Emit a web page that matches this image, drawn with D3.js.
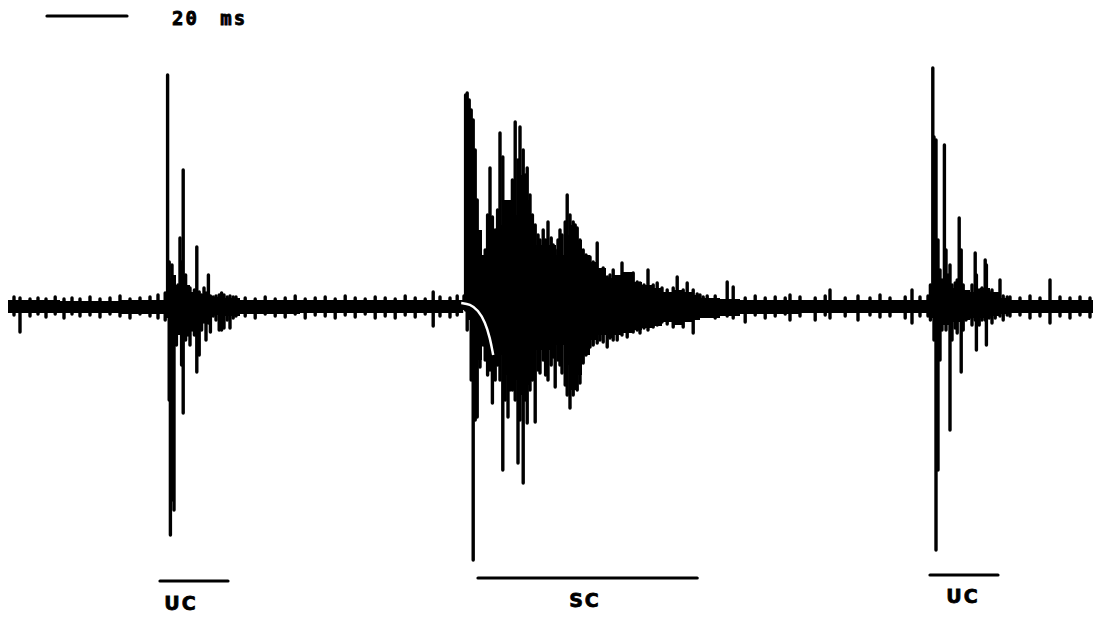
<!DOCTYPE html>
<html><head><meta charset="utf-8">
<script src="https://cdn.jsdelivr.net/npm/d3@7"></script>
<style>html,body{margin:0;padding:0;background:#fff;}svg{display:block;}</style>
</head><body>
<svg id="chart" width="1100" height="617"></svg>
<script>
// ---- data: time in ms, deflection in arbitrary amplitude units (+ up, - down) ----
const envT  = [0,13,28,38,39,40,41,42,43,44,45.5,47,48.5,50.5,53,58,73,93,113,113.8,114.5,117,118.5,120.5,122,124,126,127.5,129,130.5,132,133.5,135,137,139,140.5,142,143.5,145.5,147.5,149.5,151.5,153.5,156,158.5,161,163.5,166,168.5,171,173,178,183,198,223,229.3,230.5,233,235.5,238,240.5,243,245.5,248,250.5,271.25];
const envHi = [6,5,6,6,10,26,31,21,23,21,14,12,10,9,8,6,6,6,6,11,106,76,51,66,81,106,91,131,106,76,61,56,61,51,71,81,66,51,44,38,28,31,34,24,21,18,14,16,14,11,8,7,6,6,6,6,14,21,18,16,14,18,14,8,6,6];
const envLo = [-7,-7,-8,-8,-12,-24,-29,-29,-24,-26,-14,-12,-10,-9,-10,-8,-7,-7,-7,-4,-14,-54,-39,-54,-49,-69,-74,-89,-79,-64,-44,-44,-44,-39,-59,-84,-69,-49,-34,-29,-32,-29,-27,-24,-22,-20,-16,-19,-16,-14,-12,-10,-8,-7,-7,-7,-12,-19,-16,-14,-12,-12,-10,-8,-7,-7];

// baseline noise deflections
const noiseT  = [1.5,3,5.5,7.5,9.5,11.8,14,16,18,20.5,23,25.5,28,30.5,33,35.5,37.5,59.3,61.8,64.3,66.8,69.3,71.8,74.3,76.8,79.3,81.8,84.3,86.8,89.3,91.8,94.3,96.8,99.3,101.8,104.3,106.3,108,110.5,112.3,176.8,184.3,186.8,189.3,191.8,194.3,195.5,198,201.8,204.3,205.5,209.3,212.5,215.5,218,220.5,224.3,226,228,250.5,253,255.5,258,260.5,263,265.5,268,270.5];
const noiseHi = [9,8,7,8,7,9,7,8,7,9,7,8,10,7,8,9,11,8,7,9,7,8,10,7,8,9,7,10,8,7,9,8,7,10,8,7,14,9,8,10,10,8,10,8,9,8,11,9,8,10,16,8,10,8,11,8,9,16,9,9,8,10,8,26,9,8,9,8];
const noiseLo = [-9,-26,-10,-8,-11,-8,-12,-8,-10,-9,-11,-8,-10,-12,-8,-10,-12,-10,-12,-8,-10,-11,-8,-12,-9,-10,-12,-9,-11,-8,-12,-10,-12,-9,-11,-8,-20,-10,-11,-9,-12,-16,-9,-12,-10,-8,-14,-10,-14,-9,-12,-10,-14,-9,-11,-10,-12,-17,-10,-10,-9,-12,-10,-17,-10,-12,-9,-11];

// first burst (UC)
const uc1T  = [39.3,39.9,40.3,40.6,41,41.5,42.1,42.5,43,43.4,43.8,44.4,45,45.5,46,46.6,47.2,47.8,48.4,49,49.5,50.1,50.6,51.3,52,52.8,53.4,54,54.8,55.5,56.3,57];
const uc1Hi = [13,231,44,26,41,21,16,21,68,44,136,31,16,18,11,16,59,14,11,18,13,31,10,9,10,11,13,11,9,10,9,9];
const uc1Lo = [-14,-4,-94,-229,-194,-204,-39,-24,-14,-59,-107,-34,-29,-39,-24,-29,-66,-49,-24,-16,-34,-17,-26,-10,-14,-24,-24,-22,-14,-22,-12,-10];

// second burst (SC)
const scT  = [114,114.4,114.8,115.3,115.8,116.3,116.8,117.3,118,118.8,119.3,119.9,120.5,121.1,121.8,122.4,123,123.7,124.3,125,125.5,126.1,126.8,127.5,128,128.8,129.3,129.8,130.5,131.1,131.8,132.5,133,133.8,134.4,135,135.8,136.3,136.8,137.5,138,138.5,139.3,139.8,140.5,141.3,141.8,142.3,143,143.8,144.5,145.5,146.3,147.3,148,148.8,149.8,150.5,151.3,152.3,153.5,154.8,156.3,157.3,158,159,160,161.3,162.3,163.5,164.8,166.3,167.3,168.8,169.8,171.3,172.3,173,173.8,174.8,179.8,181.3];
const scHi = [10,211,213,206,196,186,156,106,66,33,56,91,138,89,76,96,173,149,101,96,89,126,184,146,179,156,131,138,111,91,81,71,66,76,66,84,68,61,56,66,76,71,84,111,91,84,81,78,66,56,51,49,44,63,33,38,29,31,36,28,43,26,33,24,23,21,36,21,23,18,16,18,29,16,23,16,12,11,9,10,24,19];
const scLo = [-2,-4,-24,-2,-74,-254,-114,-111,-61,-39,-54,-69,-64,-97,-74,-59,-74,-164,-94,-111,-84,-84,-94,-157,-114,-177,-94,-117,-84,-74,-116,-64,-67,-54,-69,-74,-59,-51,-81,-54,-59,-67,-79,-89,-102,-89,-79,-84,-77,-57,-49,-41,-39,-37,-34,-36,-41,-32,-34,-34,-29,-31,-26,-24,-27,-22,-24,-21,-19,-16,-18,-21,-16,-21,-14,-27,-12,-10,-7,-7,-10,-12];

// third burst (UC)
const uc2T  = [230,230.6,231.2,231.5,232,232.5,233,233.5,234.1,234.5,235,235.5,236,236.8,237.3,237.8,238.3,238.8,239.5,240.3,241,241.8,242.1,242.8,243.5,244.3,244.6,245.3,246,246.8,248,248.8,249.8];
const uc2Hi = [10,21,238,169,166,66,36,26,161,56,31,41,21,23,26,88,56,21,14,11,21,53,31,16,18,46,41,14,16,11,26,10,9];
const uc2Lo = [-10,-14,-4,-34,-244,-164,-54,-24,-14,-24,-17,-124,-34,-22,-27,-14,-66,-24,-14,-12,-19,-14,-44,-19,-14,-14,-39,-12,-17,-12,-10,-14,-9];

// white gap arc at the onset of SC
const arcT = [113.3,115.5,117.5,119.3,120.5,121.3];
const arcA = [3,2,-4,-16,-32,-49];

// annotation intervals (ms) and labels
const segStart = [38, 117.5, 230.5];
const segEnd   = [55, 172.3, 247.5];
const segLabel = ["UC", "SC", "UC"];
const scaleBarMs = [9.75, 29.75];
const scaleBarLabel = "20 ms";

// ---- drawing ----
const svg = d3.select("#chart");
const x = d3.scaleLinear().domain([0, 271.25]).range([8, 1093]);
const y = d3.scaleLinear().domain([-250, 250]).range([556, 56]);

const env = envT.map((t,i)=>({t, hi: envHi[i], lo: envLo[i]}));
svg.append("path")
  .datum(env)
  .attr("fill", "#000")
  .attr("d", d3.area().x(d=>x(d.t)).y0(d=>y(d.lo)).y1(d=>y(d.hi)).curve(d3.curveStepAfter));

function spikes(T, H, L) {
  return T.map((t,i)=>({t, hi: H[i], lo: L[i]}));
}
const all = [].concat(
  spikes(noiseT, noiseHi, noiseLo),
  spikes(uc1T, uc1Hi, uc1Lo),
  spikes(scT, scHi, scLo),
  spikes(uc2T, uc2Hi, uc2Lo)
);
svg.append("g").selectAll("line").data(all).join("line")
  .attr("x1", d=>x(d.t)).attr("x2", d=>x(d.t))
  .attr("y1", d=>y(d.hi)).attr("y2", d=>y(d.lo))
  .attr("stroke", "#000").attr("stroke-width", 3.4)
  .attr("stroke-linecap", "round");

// white arc
svg.append("path")
  .datum(arcT.map((t,i)=>[t, arcA[i]]))
  .attr("fill", "none").attr("stroke", "#fff").attr("stroke-width", 2.5)
  .attr("d", d3.line().x(d=>x(d[0])).y(d=>y(d[1])).curve(d3.curveBasis));

// annotation bars and labels
const barY = [581, 578, 575];
const labY = [610, 607, 603];
const labX = [181, 585, 963];
const ann = svg.append("g");
segLabel.forEach((lab, i) => {
  ann.append("line")
    .attr("x1", x(segStart[i])).attr("x2", x(segEnd[i]))
    .attr("y1", barY[i]).attr("y2", barY[i])
    .attr("stroke", "#000").attr("stroke-width", 3.2).attr("stroke-linecap", "round");
  ann.append("text")
    .attr("x", labX[i]).attr("y", labY[i])
    .attr("text-anchor", "middle")
    .attr("font-family", "DejaVu Sans, sans-serif")
    .attr("font-weight", "900")
    .attr("font-size", 19)
    .attr("letter-spacing", 2)
    .attr("stroke", "#000").attr("stroke-width", 0.8)
    .text(lab);
});

// scale bar
svg.append("line")
  .attr("x1", x(scaleBarMs[0])).attr("x2", x(scaleBarMs[1]))
  .attr("y1", 16).attr("y2", 16)
  .attr("stroke", "#000").attr("stroke-width", 3.2).attr("stroke-linecap", "round");
svg.append("text")
  .attr("x", 172).attr("y", 25)
  .attr("font-family", "DejaVu Sans Mono, monospace")
  .attr("font-weight", "bold").attr("font-size", 19)
  .attr("letter-spacing", 2)
  .attr("word-spacing", 8)
  .attr("stroke", "#000").attr("stroke-width", 0.8)
  .text(scaleBarLabel);
</script>
</body></html>
